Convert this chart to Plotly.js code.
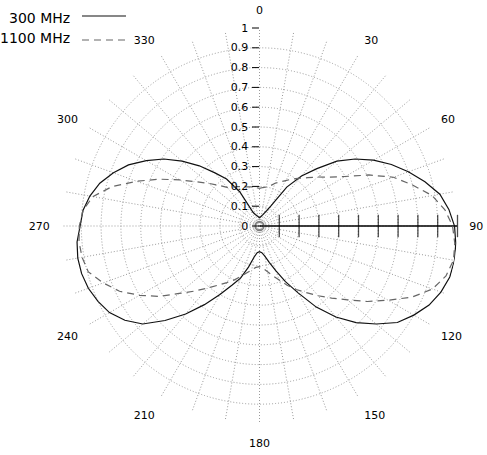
<!DOCTYPE html>
<html>
<head>
<meta charset="utf-8">
<script src="https://cdn.plot.ly/plotly-3.0.1.min.js"></script>
<style>
  html, body { margin: 0; padding: 0; background: #fff; }
  #chart { width: 487px; height: 455px; }
</style>
</head>
<body>
<div id="chart"></div>
<script>
// angle in degrees, 0 at top, clockwise
var thetaDeg = [0, 5, 10, 15, 20, 25, 30, 35, 40, 45, 50, 55, 60, 65, 70, 75, 80, 85,
  90, 95, 100, 105, 110, 115, 120, 125, 130, 135, 140, 145, 150, 155, 160, 165, 170, 175,
  180, 185, 190, 195, 200, 205, 210, 215, 220, 225, 230, 235, 240, 245, 250, 255, 260, 265,
  270, 275, 280, 285, 290, 295, 300, 305, 310, 315, 320, 325, 330, 335, 340, 345, 350, 355, 360];

var r300 = [0.04, 0.045, 0.05, 0.057, 0.068, 0.085, 0.12, 0.24, 0.33, 0.41, 0.51, 0.59, 0.665, 0.735, 0.80, 0.865, 0.925, 0.96,
  0.985, 0.995, 1.0, 0.995, 0.975, 0.945, 0.90, 0.85, 0.77, 0.69, 0.60, 0.50, 0.39, 0.31, 0.24, 0.19, 0.155, 0.135,
  0.13, 0.135, 0.16, 0.215, 0.28, 0.33, 0.40, 0.485, 0.58, 0.675, 0.77, 0.83, 0.875, 0.90, 0.92, 0.93, 0.932, 0.925,
  0.906, 0.895, 0.87, 0.835, 0.785, 0.73, 0.66, 0.59, 0.51, 0.43, 0.35, 0.29, 0.20, 0.075, 0.062, 0.055, 0.05, 0.045, 0.04];

var r1100 = [0.19, 0.195, 0.20, 0.21, 0.23, 0.245, 0.265, 0.29, 0.315, 0.345, 0.385, 0.43, 0.50, 0.61, 0.72, 0.80, 0.885, 0.94,
  0.975, 0.99, 0.995, 0.975, 0.93, 0.85, 0.75, 0.665, 0.58, 0.515, 0.46, 0.41, 0.37, 0.33, 0.29, 0.26, 0.235, 0.215,
  0.205, 0.21, 0.225, 0.245, 0.27, 0.30, 0.33, 0.365, 0.41, 0.465, 0.53, 0.62, 0.70, 0.78, 0.84, 0.895, 0.91, 0.915,
  0.91, 0.895, 0.855, 0.77, 0.66, 0.56, 0.465, 0.39, 0.335, 0.29, 0.255, 0.24, 0.23, 0.22, 0.21, 0.205, 0.20, 0.195, 0.19];

var seriesNames = ['300 MHz', '1100 MHz'];

// tick values and labels
var radialTicks = [0, 0.1, 0.2, 0.3, 0.4, 0.5, 0.6, 0.7, 0.8, 0.9, 1];
var radialLabels = ['0', '0.1', '0.2', '0.3', '0.4', '0.5', '0.6', '0.7', '0.8', '0.9', '1'];
var angleTicks = [0, 10, 20, 30, 40, 50, 60, 70, 80, 90, 100, 110, 120, 130, 140, 150, 160, 170,
  180, 190, 200, 210, 220, 230, 240, 250, 260, 270, 280, 290, 300, 310, 320, 330, 340, 350];
var angleLabels = ['0', '', '', '30', '', '', '60', '', '', '90', '', '', '120', '', '', '150', '', '',
  '180', '', '', '210', '', '', '240', '', '', '270', '', '', '300', '', '', '330', '', ''];

// second radial scale drawn along 90 degrees
var scaleR = radialTicks;
var scaleTheta = radialTicks.map(function () { return 90; });
var scaleSymbols = radialTicks.map(function (v, i) { return i === 0 ? 'circle-open' : 'line-ns-open'; });
var scaleSizes = radialTicks.map(function (v, i) { return i === 0 ? 9 : 16; });
var scaleColors = radialTicks.map(function (v, i) { return i === 0 ? '#444' : '#000'; });

var fontFamily = 'DejaVu Sans, Verdana, sans-serif';

var traces = [
  {
    type: 'scatterpolar',
    r: scaleR,
    theta: scaleTheta,
    mode: 'lines+markers',
    line: {color: '#000', width: 1.5},
    marker: {symbol: scaleSymbols, size: scaleSizes, color: scaleColors, line: {width: 1.3, color: scaleColors}},
    showlegend: false,
    hoverinfo: 'skip'
  },
  {
    type: 'scatterpolar',
    name: seriesNames[0],
    r: r300,
    theta: thetaDeg,
    mode: 'lines',
    line: {color: '#111', width: 1.2}
  },
  {
    type: 'scatterpolar',
    name: seriesNames[1],
    r: r1100,
    theta: thetaDeg,
    mode: 'lines',
    line: {color: '#666', width: 1.2, dash: '7px,5px'}
  }
];

var gridColor = '#9a9a9a';

var layout = {
  width: 487,
  height: 455,
  margin: {l: 61, r: 29, t: 28, b: 31},
  paper_bgcolor: '#fff',
  showlegend: false,
  font: {family: fontFamily, size: 11, color: '#000'},
  polar: {
    bgcolor: '#fff',
    angularaxis: {
      rotation: 90,
      direction: 'clockwise',
      tickmode: 'array',
      tickvals: angleTicks,
      ticktext: angleLabels,
      ticks: 'outside',
      ticklen: 9,
      tickcolor: 'rgba(0,0,0,0)',
      showline: false,
      gridcolor: gridColor,
      griddash: '1px,2px',
      gridwidth: 1,
      tickfont: {family: fontFamily, size: 11, color: '#000'}
    },
    radialaxis: {
      range: [0, 1],
      angle: 90,
      side: 'counterclockwise',
      tickmode: 'array',
      tickvals: radialTicks,
      ticktext: radialLabels,
      ticks: 'outside',
      ticklen: 7,
      tickcolor: '#000',
      tickwidth: 1,
      tickangle: 90,
      showline: false,
      gridcolor: gridColor,
      griddash: '1px,2px',
      gridwidth: 1,
      tickfont: {family: fontFamily, size: 11, color: '#000'}
    }
  },
  annotations: [
    {xref: 'paper', yref: 'paper', x: 0.0277, y: 1.0253, xanchor: 'right', yanchor: 'middle',
      text: seriesNames[0], showarrow: false, font: {family: fontFamily, size: 14, color: '#000'}},
    {xref: 'paper', yref: 'paper', x: 0.0277, y: 0.9747, xanchor: 'right', yanchor: 'middle',
      text: seriesNames[1], showarrow: false, font: {family: fontFamily, size: 14, color: '#000'}}
  ],
  shapes: [
    {type: 'line', xref: 'paper', yref: 'paper', x0: 0.0529, x1: 0.1637, y0: 1.0303, y1: 1.0303,
      line: {color: '#111', width: 1.2}},
    {type: 'line', xref: 'paper', yref: 'paper', x0: 0.0529, x1: 0.1637, y0: 0.9697, y1: 0.9697,
      line: {color: '#666', width: 1.2, dash: '7px,5px'}}
  ]
};

Plotly.newPlot('chart', traces, layout, {staticPlot: true, displayModeBar: false});
</script>
</body>
</html>
